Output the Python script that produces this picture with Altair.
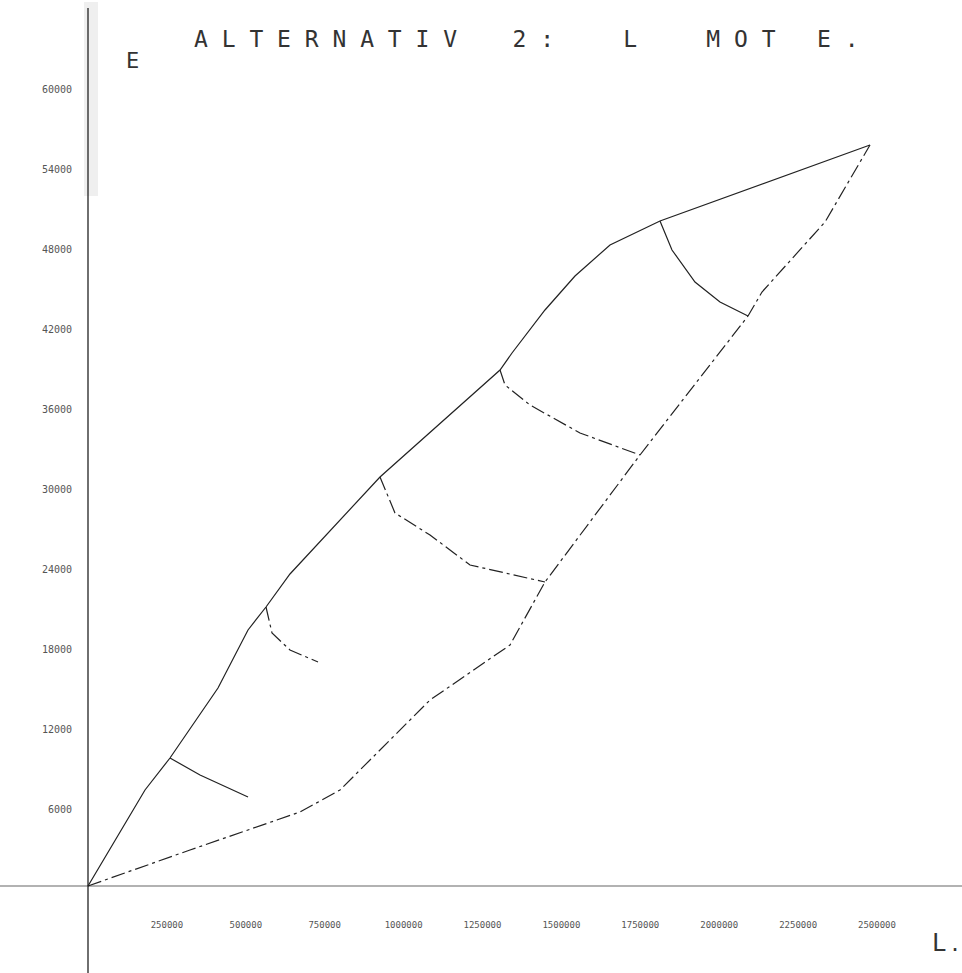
import altair as alt
import pandas as pd

# Boundary curves (L on x, E on y)
upper_x = [0, 180600, 259800, 411900, 507000, 564000, 640000, 925200,
           1305500, 1343500, 1448000, 1543100, 1654000, 1812400, 2477800]
upper_y = [0, 7200, 9600, 14850, 19200, 20925, 23400, 30675,
           38700, 39975, 43200, 45750, 48075, 49875, 55575]

lower_x = [0, 323200, 671700, 798500, 1083700, 1337100, 1448000,
           1749000, 2091300, 2135600, 2335300, 2477800]
lower_y = [0, 2700, 5550, 7200, 13950, 18075, 22800,
           32325, 42750, 44550, 49800, 55575]

# Cross curves between the boundaries
c1_x = [259800, 354900, 507000]
c1_y = [9600, 8325, 6675]
c2_x = [564000, 583000, 640000, 728800]
c2_y = [20925, 18975, 17700, 16800]
c3_x = [925200, 972700, 1083700, 1210400, 1448000]
c3_y = [30675, 27975, 26325, 24075, 22800]
c4_x = [1305500, 1321300, 1400500, 1558900, 1749000]
c4_y = [38700, 37575, 36075, 33975, 32325]
c5_x = [1812400, 1850400, 1923300, 2002500, 2091300]
c5_y = [49875, 47700, 45300, 43800, 42750]

# Axis ticks
x_ticks = [250000, 500000, 750000, 1000000, 1250000,
           1500000, 1750000, 2000000, 2250000, 2500000]
y_ticks = [6000, 12000, 18000, 24000, 30000,
           36000, 42000, 48000, 54000, 60000]

NB = "\u00a0"
title_text = NB.join("ALTERNATIV") + NB * 4 + "2" + NB + ":" + NB * 5 + "L" + NB * 5 + \
    NB.join("MOT") + NB * 3 + "E" + NB + "."


def curve_frame(name, xs, ys):
    return pd.DataFrame({"curve": name, "L": xs, "E": ys, "i": range(len(xs))})


solid = pd.concat([
    curve_frame("upper", upper_x, upper_y),
    curve_frame("c1", c1_x, c1_y),
    curve_frame("c5", c5_x, c5_y),
])
broken = pd.concat([
    curve_frame("lower", lower_x, lower_y),
    curve_frame("c2", c2_x, c2_y),
    curve_frame("c3", c3_x, c3_y),
    curve_frame("c4", c4_x, c4_y),
])

W, H = 962, 973
xs = alt.Scale(domain=[-278834, 2769328], nice=False, zero=False)
ys = alt.Scale(domain=[-6525, 66450], nice=False, zero=False)

band = alt.Chart(pd.DataFrame({"a": [0]})).mark_rect(color="#efefef").encode(
    x=alt.value(84), x2=alt.value(98), y=alt.value(2), y2=alt.value(196)
)

y_axis_line = alt.Chart(pd.DataFrame({"L": [0]})).mark_rule(color="#222", strokeWidth=1.3).encode(
    x=alt.X("L:Q", scale=xs, axis=None), y=alt.value(8), y2=alt.value(H)
)
x_axis_line = alt.Chart(pd.DataFrame({"E": [0]})).mark_rule(color="#666", strokeWidth=1.2).encode(
    y=alt.Y("E:Q", scale=ys, axis=None), x=alt.value(0), x2=alt.value(W)
)

solid_lines = alt.Chart(solid).mark_line(color="#222", strokeWidth=1.2).encode(
    x=alt.X("L:Q", scale=xs, axis=None),
    y=alt.Y("E:Q", scale=ys, axis=None),
    detail="curve:N",
    order="i:Q",
)
broken_lines = alt.Chart(broken).mark_line(
    color="#222", strokeWidth=1.2, strokeDash=[14, 4, 3, 4]
).encode(
    x=alt.X("L:Q", scale=xs, axis=None),
    y=alt.Y("E:Q", scale=ys, axis=None),
    detail="curve:N",
    order="i:Q",
)

x_labels = alt.Chart(pd.DataFrame({"L": x_ticks, "t": [str(v) for v in x_ticks]})).mark_text(
    font="DejaVu Sans Mono", fontSize=9, color="#555", align="center", baseline="middle"
).encode(x=alt.X("L:Q", scale=xs, axis=None), y=alt.value(925), text="t:N")

y_labels = alt.Chart(pd.DataFrame({"E": y_ticks, "t": [str(v) for v in y_ticks]})).mark_text(
    font="DejaVu Sans Mono", fontSize=10, color="#555", align="right", baseline="middle", dy=4
).encode(y=alt.Y("E:Q", scale=ys, axis=None), x=alt.value(72), text="t:N")

title = alt.Chart(pd.DataFrame({"a": [0]})).mark_text(
    font="DejaVu Sans Mono", fontSize=23, color="#333", align="left", baseline="middle"
).encode(x=alt.value(194), y=alt.value(40), text=alt.value(title_text))

e_label = alt.Chart(pd.DataFrame({"a": [0]})).mark_text(
    font="DejaVu Sans Mono", fontSize=22, color="#333", align="left", baseline="middle"
).encode(x=alt.value(126), y=alt.value(61), text=alt.value("E"))

l_label = alt.Chart(pd.DataFrame({"a": [0]})).mark_text(
    font="DejaVu Sans Mono", fontSize=24, color="#333", align="left", baseline="middle"
).encode(x=alt.value(932), y=alt.value(944), text=alt.value("L"))

l_dot = alt.Chart(pd.DataFrame({"a": [0]})).mark_text(
    font="DejaVu Sans Mono", fontSize=20, color="#333", align="center", baseline="middle"
).encode(x=alt.value(955), y=alt.value(945), text=alt.value("."))

chart = alt.layer(
    band, x_axis_line, y_axis_line, solid_lines, broken_lines,
    x_labels, y_labels, title, e_label, l_label, l_dot
).properties(
    width=W, height=H, padding=0, autosize=alt.AutoSizeParams(type="none"),
    background="white"
).configure_view(stroke=None)

chart.save("out.html", embed_options={"renderer": "svg", "actions": False})
